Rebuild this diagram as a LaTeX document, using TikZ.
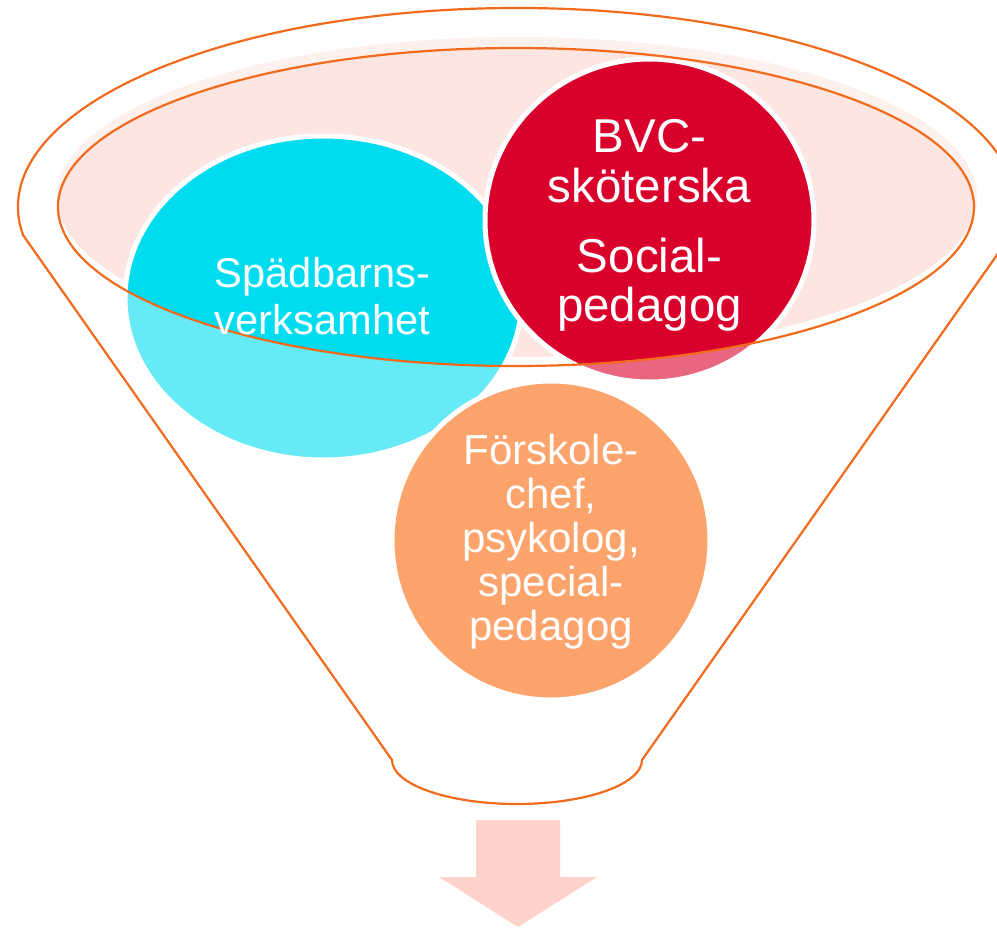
\documentclass[tikz,border=0pt]{standalone}
\usepackage{fontspec}
\setmainfont{Liberation Sans}
\usetikzlibrary{shapes.geometric}
\definecolor{cyanc}{HTML}{00DCEF}
\definecolor{redc}{HTML}{D9002C}
\definecolor{orangec}{HTML}{FDA46C}
\definecolor{pinkc}{HTML}{FDE6E2}
\definecolor{linec}{HTML}{F26A1B}
\definecolor{arrowc}{HTML}{FFD3CC}
\tikzset{
  bubble/.style={ellipse, draw=white, line width=5pt, inner sep=0pt},
  funnelline/.style={draw=linec, line width=2.2pt, line join=round},
  label/.style={text=white, align=center, inner sep=0pt},
}
\begin{document}
\begin{tikzpicture}[x=1pt,y=1pt]
\useasboundingbox (0,0) rectangle (997,-929);
\clip (0,0) rectangle (997,-929);
% pink rim surface
\fill[pinkc] (517,-197) ellipse [x radius=460, y radius=160];
% bubbles
\node[bubble, fill=cyanc, minimum width=397pt, minimum height=324pt] (spad) at (323.5,-298) {};
\node[bubble, fill=redc, minimum width=329pt, minimum height=323pt] (bvc) at (649.5,-220.5) {};
% translucent front of funnel
\fill[white, fill opacity=0.4, even odd rule]
  (23,-235) arc[start angle=188.1, end angle=-8.1, x radius=499, y radius=199]
  -- (642,-760) arc[start angle=0, end angle=-180, x radius=125, y radius=44]
  -- cycle
  (516,-207) ellipse [x radius=458, y radius=159];
% bottom bubble
\node[bubble, fill=orangec, minimum width=318pt, minimum height=319pt] (forsk) at (551,-540.5) {};
% funnel outlines
\draw[funnelline] (23,-235) arc[start angle=188.1, end angle=-8.1, x radius=499, y radius=199]
  -- (642,-760) arc[start angle=0, end angle=-180, x radius=125, y radius=44]
  -- cycle;
\draw[funnelline] (516,-207) ellipse [x radius=458, y radius=159];
% texts
\node[label, font=\fontsize{41.6}{47}\selectfont] (spadtext) at (322.5,-296.4) {Spädbarns-\\verksamhet};
\node[label, font=\fontsize{47.5}{49.5}\selectfont] (bvctext) at (649.5,-225.5) {BVC-\\sköterska\\[20.5pt]Social-\\pedagog};
\node[label, font=\fontsize{42}{44}\selectfont] (forsktext) at (551,-542) {Förskole-\\chef,\\psykolog,\\special-\\pedagog};
% output arrow
\node[coordinate] (arrtop) at (518,-820) {};
\fill[arrowc] (arrtop) ++(-42,0) -- ++(84,0) -- ++(0,-57) -- ++(37,0) -- (518,-927) -- (439,-877) -- ++(37,0) -- cycle;
\end{tikzpicture}
\end{document}
